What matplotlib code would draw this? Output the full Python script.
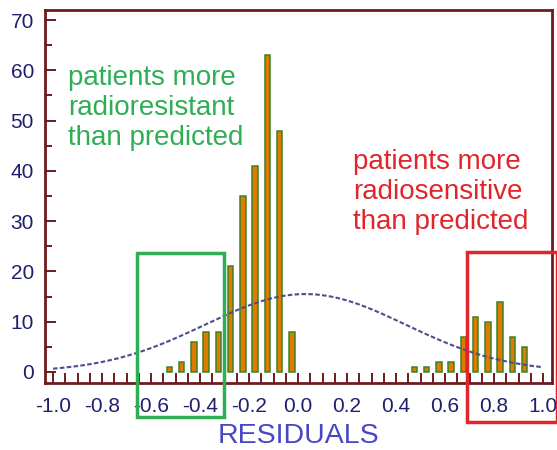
import numpy as np
import matplotlib
matplotlib.use("Agg")
import matplotlib.pyplot as plt
from matplotlib.patches import Rectangle

# ---- data ----
bin_centers = [-0.525, -0.475, -0.425, -0.375, -0.325, -0.275, -0.225, -0.175,
               -0.125, -0.075, -0.025,
               0.475, 0.525, 0.575, 0.625, 0.675, 0.725, 0.775, 0.825, 0.875, 0.925]
counts = [1, 2, 6, 8, 8, 21, 35, 41, 63, 48, 8,
          1, 1, 2, 2, 7, 11, 10, 14, 7, 5]

# fitted normal curve parameters
fit_mu = 0.03
fit_sigma = 0.41
fit_peak = 15.5
fit_range = (-1.0, 1.0)

xtick_values = [-1.0, -0.8, -0.6, -0.4, -0.2, 0.0, 0.2, 0.4, 0.6, 0.8, 1.0]
xtick_labels = ["-1.0", "-0.8", "-0.6", "-0.4", "-0.2", "0.0", "0.2", "0.4", "0.6", "0.8", "1.0"]
ytick_values = [0, 10, 20, 30, 40, 50, 60, 70]

green_text = "patients more\nradioresistant\nthan predicted"
red_text = "patients more\nradiosensitive\nthan predicted"
xlabel = "RESIDUALS"

# ---- style ----
plt.rcParams["font.family"] = ["Liberation Sans", "DejaVu Sans"]
spine_col = "#6e1a1e"
tick_lab_col = "#1f1f6e"
bar_face = "#e07b00"
bar_edge = "#3a8228"
green = "#2fae55"
red = "#e0262c"
curve_col = "#4d4d8f"

fig = plt.figure(figsize=(5.57, 4.5), dpi=100)
ax = fig.add_axes([45 / 557, 67 / 450, 507 / 557, 373 / 450])

ax.bar(bin_centers, counts, width=0.023, color=bar_face, edgecolor=bar_edge,
       linewidth=1.1, zorder=2)

xs = np.linspace(fit_range[0], fit_range[1], 400)
ys = fit_peak * np.exp(-0.5 * ((xs - fit_mu) / fit_sigma) ** 2)
ax.plot(xs, ys, color=curve_col, lw=1.5, dashes=(2.2, 1.1), zorder=3)

ax.set_xlim(-1.0327, 1.0367)
ax.set_ylim(-2.19, 72.0)

for s in ax.spines.values():
    s.set_color(spine_col)
    s.set_linewidth(2.0)

ax.set_xticks(xtick_values)
ax.set_xticklabels(xtick_labels)
ax.set_xticks(np.arange(-1.0, 1.0001, 0.05), minor=True)
ax.set_yticks(ytick_values)
ax.set_yticks(np.arange(0, 71, 5), minor=True)

ax.tick_params(axis="x", which="both", direction="in", length=7, width=1.4,
               color=spine_col, labelcolor=tick_lab_col, labelsize=15, pad=10)
ax.tick_params(axis="y", which="major", direction="in", length=8, width=1.4,
               color=spine_col, labelcolor=tick_lab_col, labelsize=15, pad=8)
ax.tick_params(axis="y", which="minor", direction="in", length=5, width=1.4,
               color=spine_col)

ax.set_xlabel(xlabel, color="#4747c4", fontsize=20.5, labelpad=5)

ax.text(-0.94, 52.5, green_text, color=green, fontsize=20, ha="left", va="center",
        linespacing=1.22, zorder=4)
ax.text(0.224, 35.8, red_text, color=red, fontsize=20, ha="left", va="center",
        linespacing=1.18, zorder=4)

# highlight rectangles (extend beyond the axes)
ax.add_patch(Rectangle((-0.658, -9.0), 0.356, 32.6, fill=False, edgecolor=green,
                       linewidth=2.5, clip_on=False, zorder=5))
ax.add_patch(Rectangle((0.688, -9.9), 0.37, 33.8, fill=False, edgecolor=red,
                       linewidth=2.5, clip_on=False, zorder=5))

fig.savefig("out.png", dpi=100)
